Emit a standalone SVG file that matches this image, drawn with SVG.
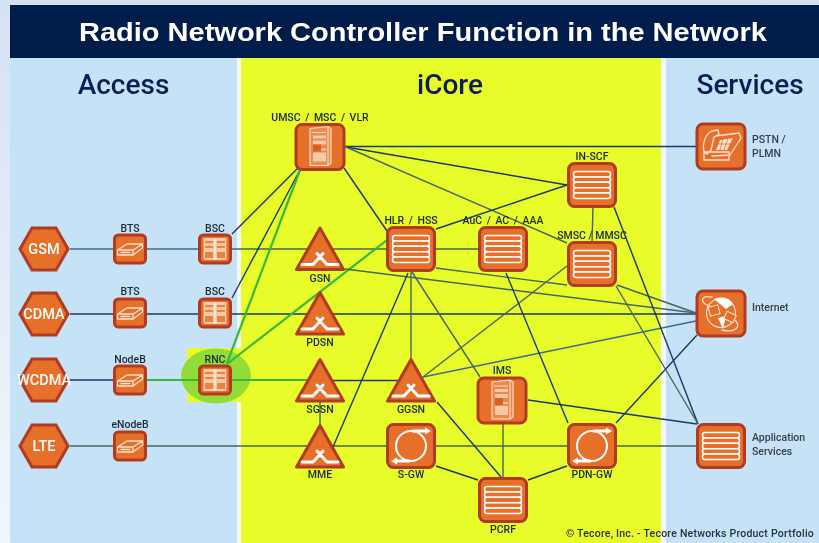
<svg xmlns="http://www.w3.org/2000/svg" width="819" height="543" viewBox="0 0 819 543">
<style>
text{font-family:"Roboto","Liberation Sans",Arial,sans-serif}
.lb{font-size:10.500px;font-weight:500;fill:#1c2a35;text-anchor:middle}
.sv{font-size:10.500px;font-weight:500;fill:#36404c}
.hx{font-size:14.500px;font-weight:500;fill:#fff;text-anchor:middle}
.hd{font-size:28px;font-weight:500;fill:#0b1f55;text-anchor:middle}
.b{fill:#e66f2b;stroke:#b03a20;stroke-width:3}
.i{fill:none;stroke:#fde3d0;stroke-width:1.300;stroke-linejoin:round;stroke-linecap:round}
.p{fill:none;stroke:#fde3d0;stroke-width:1}
.w{fill:none;stroke:#fff;stroke-width:3;stroke-linecap:round;stroke-linejoin:round}
#connectors line{fill:none;stroke-width:1.400}
.n{stroke:#183a6b}
.g{stroke:#46665c}
.s{stroke:#3f6a92}
#connectors line.e{stroke:#39b83a;stroke-width:2.200}
</style>
<defs>
<linearGradient id="bg" x1="0" y1="0" x2="0" y2="1"><stop offset="0" stop-color="#d5e2f3"/><stop offset="1" stop-color="#f2f6fd"/></linearGradient>
<filter id="soft" x="-2%" y="-2%" width="104%" height="104%"><feGaussianBlur stdDeviation="0.35"/></filter>
<polygon id="hex" class="b" points="-24,0 -12,-21 12,-21 24,0 12,21 -12,21"/>
<g id="tri"><polygon class="b" points="0,-21.500 -23.500,20 23.500,20" stroke-linejoin="round"/><path class="w" d="M-18,15H-7L3,4M-3,4L7,15H18"/></g>
<g id="bts"><rect class="b" x="-15.500" y="-14" width="31" height="28" rx="4"/><path class="i" d="M-12.500,1L-3,-5H12.500L12.500,-1L3,6H-12.500ZM-12.500,1H3L12.500,-5M3,1V6M-9,3.500H0"/></g>
<g id="bsc"><rect class="b" x="-15.500" y="-14" width="31" height="28" rx="4"/><rect x="-11.500" y="-11" width="23" height="22" fill="#f8c9a8"/><path d="M-10,-8H-2V-6H-10ZM2,-8H10V-6H2ZM-10,-3H-2V-1H-10ZM2,-3H10V-1H2ZM-10,3H-2V9H-10ZM2,3H10V9H2Z" fill="#ea8240"/><path d="M0,-11V11" stroke="#fff" stroke-width="1"/></g>
<g id="stack"><rect class="b" x="-23.500" y="-21.500" width="47" height="43" rx="6"/><g fill="#e66f2b" stroke="#fff" stroke-width="1.500"><rect x="-18.500" y="-13.500" width="37" height="5.400" rx="2.500"/><rect x="-18.500" y="-8.100" width="37" height="5.400" rx="2.500"/><rect x="-18.500" y="-2.700" width="37" height="5.400" rx="2.500"/><rect x="-18.500" y="2.700" width="37" height="5.400" rx="2.500"/><rect x="-18.500" y="8.100" width="37" height="5.400" rx="2.500"/></g></g>
<g id="srv"><rect class="b" x="-24" y="-22" width="48" height="45" rx="6"/><path fill="#ea8a50" stroke="#fde3d0" stroke-width="1.100" d="M-10,-18L8,-20L11,-18V17L8,19H-10Z"/><path class="p" d="M8,-20V19M-8,-14H6"/><path d="M-7,-11H6V-8H-7ZM-7,-6H6V-2H-7ZM1,2H6V4H1ZM-7,6H6V15H-7Z" fill="#f8c9a8"/><path d="M-7,-2H1V5H-7Z" fill="#d95f1e"/></g>
<g id="gw"><rect class="b" x="-23.500" y="-21.500" width="47" height="43" rx="6"/><circle r="15" fill="none" stroke="#fff" stroke-width="2"/><path class="w" stroke-width="1.500" d="M2,-15H16M-2,15H-16"/><path d="M14,-18.500L20,-15L14,-11.500ZM-14,18.500L-20,15L-14,11.500Z" fill="#fff"/></g>
</defs>

<rect width="819" height="543" fill="url(#bg)"/>
<g filter="url(#soft)">
<rect x="10" y="5" width="809" height="53" fill="#001a4b"/>
<rect x="10" y="58" width="227" height="485" fill="#c5e2f7"/>
<rect x="237" y="58" width="4" height="485" fill="#f4f8fd"/>
<rect x="241" y="58" width="420" height="485" fill="#e8fc2b"/>
<rect x="661" y="58" width="5" height="485" fill="#f4f8fd"/>
<rect x="666" y="58" width="153" height="485" fill="#c5e2f7"/>
<rect x="187" y="348" width="54" height="54" fill="#e8fc2b"/>
<ellipse cx="216" cy="376" rx="35" ry="27.500" fill="#93dc38"/>

<g id="connectors">
<line class="s" x1="70" y1="249" x2="198" y2="249"/>
<line class="g" x1="232" y1="249" x2="478" y2="249"/>
<line class="n" x1="70" y1="314" x2="696" y2="314"/>
<line class="n" x1="70" y1="380" x2="114" y2="380"/>
<line class="e" x1="147" y1="380" x2="320" y2="380"/>
<line class="n" x1="320" y1="380.500" x2="412" y2="380.500"/>
<line class="g" x1="70" y1="446" x2="696" y2="446"/>
<line class="n" x1="232" y1="234" x2="298" y2="168"/>
<line class="n" x1="232" y1="298" x2="300" y2="170"/>
<line class="e" x1="227" y1="363" x2="300" y2="170"/>
<line class="e" x1="227" y1="364" x2="387" y2="240"/>
<line class="n" x1="344" y1="168" x2="387" y2="231"/>
<line class="n" x1="345" y1="146.500" x2="696" y2="146.500"/>
<line class="n" x1="346" y1="147" x2="567" y2="185"/>
<line class="g" x1="346" y1="147" x2="567" y2="243"/>
<line class="n" x1="436" y1="229" x2="567" y2="185"/>
<line class="g" x1="593" y1="207" x2="592" y2="242"/>
<line class="g" x1="345" y1="269" x2="696" y2="313"/>
<line class="g" x1="436" y1="268" x2="567" y2="285"/>
<line class="g" x1="617" y1="285" x2="696" y2="313"/>
<line class="s" x1="423" y1="377" x2="696" y2="321"/>
<line class="g" x1="423" y1="377" x2="567" y2="266"/>
<line class="g" x1="411" y1="272" x2="411" y2="360"/>
<line class="n" x1="408" y1="273" x2="333" y2="447"/>
<line class="g" x1="412" y1="272" x2="480" y2="377"/>
<line class="n" x1="506" y1="273" x2="568" y2="423"/>
<line class="n" x1="437" y1="402" x2="501" y2="477"/>
<line class="g" x1="503" y1="423" x2="503" y2="477"/>
<line class="n" x1="528" y1="400" x2="697" y2="424"/>
<line class="n" x1="436" y1="466" x2="478" y2="480"/>
<line class="n" x1="567" y1="466" x2="528" y2="480"/>
<line class="n" x1="616" y1="423" x2="697" y2="335"/>
<line class="n" x1="614" y1="207" x2="698" y2="424"/>
<line class="g" x1="616" y1="286" x2="698" y2="424"/>
<line class="g" x1="320" y1="400" x2="320" y2="428"/>
</g>

<g id="title"><text x="423" y="41" text-anchor="middle" textLength="688" lengthAdjust="spacingAndGlyphs" style="font-family:'Liberation Sans',Arial,sans-serif" font-size="26" font-weight="700" fill="#fff">Radio Network Controller Function in the Network</text></g>
<g id="sections">
<text class="hd" x="123.500" y="94">Access</text>
<text class="hd" x="450" y="94">iCore</text>
<text class="hd" x="750" y="94">Services</text>
</g>

<g id="gsm"><use href="#hex" x="44" y="249"/><text class="hx" x="44" y="254">GSM</text></g>
<g id="cdma"><use href="#hex" x="44" y="314"/><text class="hx" x="44" y="319">CDMA</text></g>
<g id="wcdma"><use href="#hex" x="44" y="380"/><text class="hx" x="44" y="385">WCDMA</text></g>
<g id="lte"><use href="#hex" x="44" y="446"/><text class="hx" x="44" y="451">LTE</text></g>

<g id="bts1"><use href="#bts" x="130" y="249"/><text class="lb" x="130" y="232">BTS</text></g>
<g id="bts2"><use href="#bts" x="130" y="313"/><text class="lb" x="130" y="295">BTS</text></g>
<g id="nodeb"><use href="#bts" x="130" y="380"/><text class="lb" x="130" y="363">NodeB</text></g>
<g id="enodeb"><use href="#bts" x="130" y="446"/><text class="lb" x="130" y="428">eNodeB</text></g>
<g id="bsc1"><use href="#bsc" x="215" y="249"/><text class="lb" x="215" y="232">BSC</text></g>
<g id="bsc2"><use href="#bsc" x="215" y="313"/><text class="lb" x="215" y="295">BSC</text></g>
<g id="rnc"><use href="#bsc" x="215" y="380"/><text class="lb" x="215" y="363">RNC</text></g>

<g id="umsc"><use href="#srv" x="320" y="146.500"/><text class="lb" x="320" y="120.500" word-spacing="2">UMSC / MSC / VLR</text></g>
<g id="gsn"><use href="#tri" x="320" y="249.500"/><text class="lb" x="320" y="282">GSN</text></g>
<g id="pdsn"><use href="#tri" x="320" y="314"/><text class="lb" x="320" y="346">PDSN</text></g>
<g id="sgsn"><use href="#tri" x="320" y="381"/><text class="lb" x="320" y="413">SGSN</text></g>
<g id="mme"><use href="#tri" x="320" y="447"/><text class="lb" x="320" y="478">MME</text></g>
<g id="ggsn"><use href="#tri" x="411" y="381"/><text class="lb" x="411" y="413">GGSN</text></g>
<g id="hlr"><use href="#stack" x="411" y="249"/><text class="lb" x="411" y="224" word-spacing="2">HLR / HSS</text></g>
<g id="auc"><use href="#stack" x="503" y="249"/><text class="lb" x="503" y="224" word-spacing="2">AuC / AC / AAA</text></g>
<g id="inscf"><use href="#stack" x="592" y="185"/><text class="lb" x="592" y="160">IN-SCF</text></g>
<g id="smsc"><use href="#stack" x="592" y="264"/><text class="lb" x="592" y="239">SMSC / MMSC</text></g>
<g id="ims"><use href="#srv" x="502" y="400"/><text class="lb" x="502" y="374">IMS</text></g>
<g id="sgw"><use href="#gw" x="411" y="446"/><text class="lb" x="411" y="478">S-GW</text></g>
<g id="pdngw"><use href="#gw" x="592" y="446"/><text class="lb" x="592" y="478">PDN-GW</text></g>
<g id="pcrf"><use href="#stack" x="503" y="500"/><text class="lb" x="503" y="533">PCRF</text></g>

<g id="pstn"><rect class="b" x="697" y="124" width="48" height="45" rx="6"/>
<path class="i" d="M704,152C702,142 706,134 712,131L718,130L719,134L714,137L711,150L707,154ZM716,136L739,133L741,138L730,155L712,156M704,152H729V160H704Z"/><path d="M720,140L733,138L727,150H716Z" fill="#fde3d0"/><path d="M723,138L720,150M728,138L724,150M718,144H731" stroke="#e66f2b" stroke-width=".8"/>
<text class="sv" x="752" y="143">PSTN /</text><text class="sv" x="752" y="157">PLMN</text></g>
<g id="internet"><rect class="b" x="697" y="291" width="48" height="45" rx="6"/>
<circle cx="721" cy="313" r="14.500" fill="none" stroke="#fde3d0" stroke-width="1.100"/><path d="M714,299C722,296 730,298 733,304L726,309L720,304ZM718,318L726,316L723,329Z" fill="#fff"/><rect x="709" y="306" width="10" height="9" fill="#e66f2b" stroke="#fde3d0" transform="rotate(-15 714 310)"/><rect x="725" y="313" width="10" height="8" fill="#e66f2b" stroke="#fde3d0" transform="rotate(25 730 317)"/><path class="i" d="M709,306C699,302 701,295 712,297M735,320C742,327 735,333 722,330"/>
<text class="sv" x="752" y="311">Internet</text></g>
<g id="appsvc"><use href="#stack" x="721" y="446"/>
<text class="sv" x="752" y="441">Application</text><text class="sv" x="752" y="455">Services</text></g>

<text x="566" y="537" font-size="10.500" font-weight="500" fill="#27323c" letter-spacing=".23">© Tecore, Inc. - Tecore Networks Product Portfolio</text>
</g>
</svg>
